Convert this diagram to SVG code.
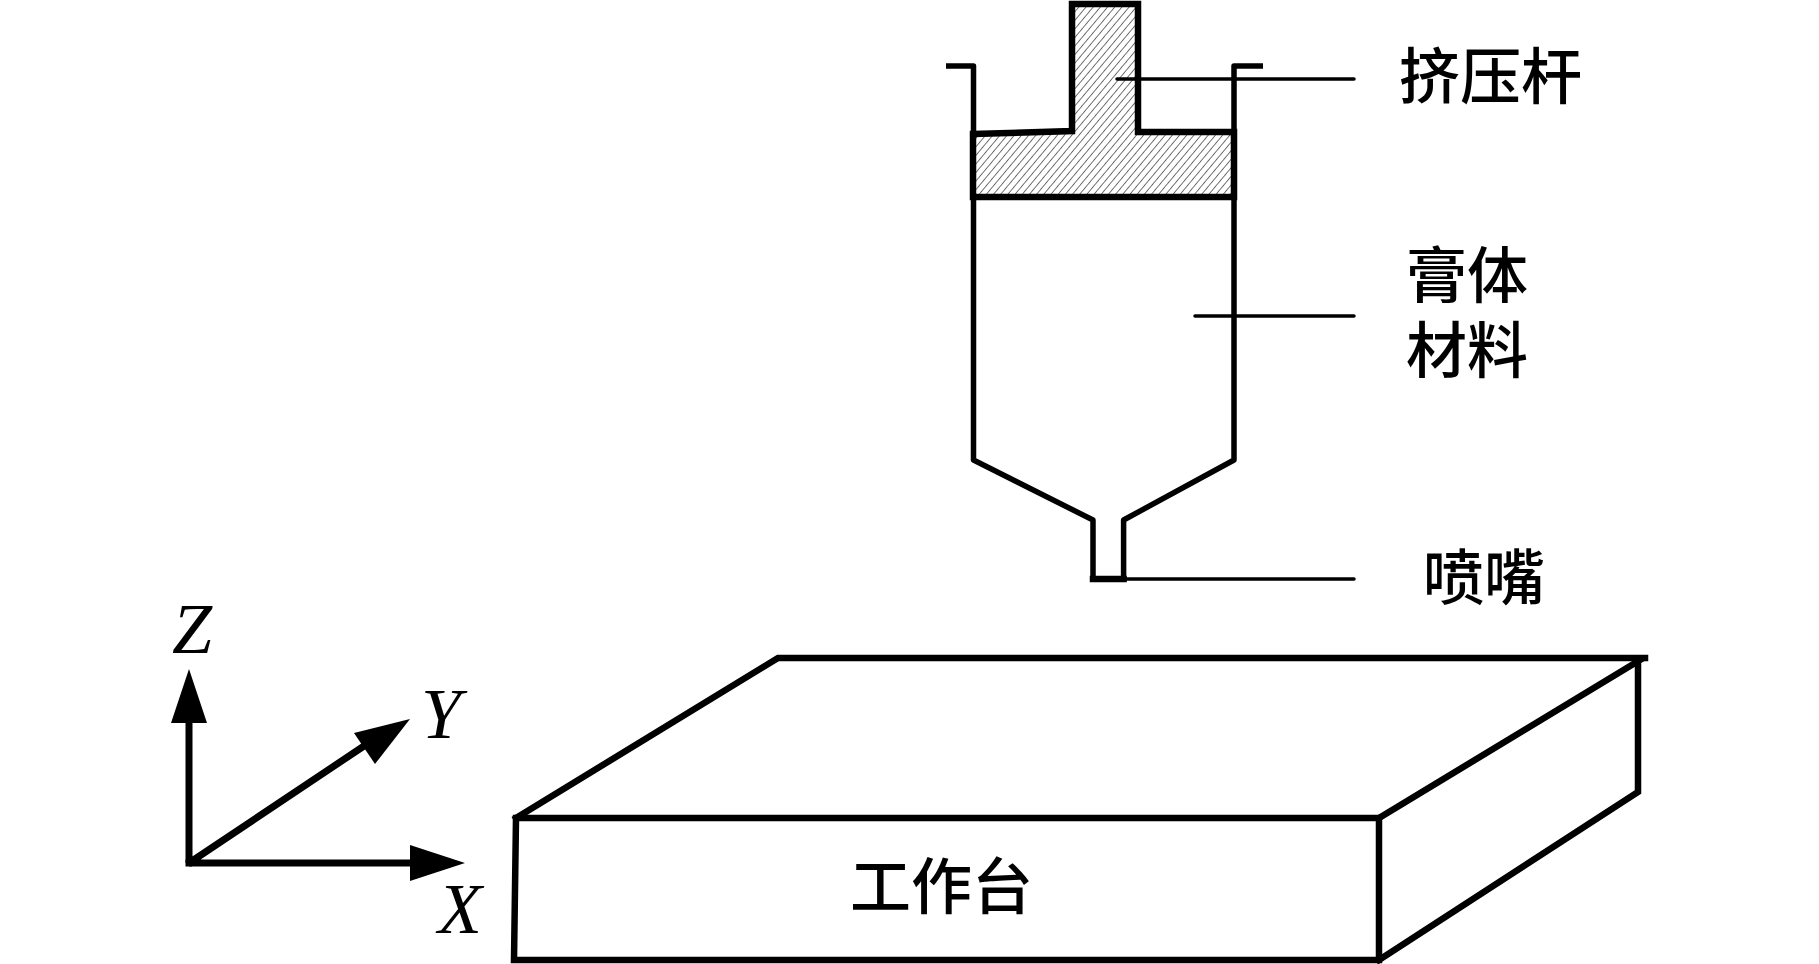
<svg xmlns="http://www.w3.org/2000/svg" width="1819" height="964" viewBox="0 0 1819 964">
<style>
.o{fill:none;stroke:#000;stroke-width:6.5;stroke-linecap:square;stroke-linejoin:miter}
.w{fill:none;stroke:#000;stroke-width:5.5;stroke-linejoin:round}
.l{fill:none;stroke:#000;stroke-width:3.5;stroke-linecap:round}
.a{fill:none;stroke:#000;stroke-width:7}
.h{fill:#000}
.c{font-family:"Noto Sans CJK SC","Noto Sans CJK JP",sans-serif;font-size:61px;fill:#000;font-weight:500}
.m{font-family:"Liberation Serif",serif;font-style:italic;font-size:72px;fill:#000}
</style>
<defs>
<pattern id="hatch" width="5.5" height="5.5" patternUnits="userSpaceOnUse" patternTransform="rotate(40)">
<line x1="0" y1="0" x2="0" y2="5.5" stroke="#000" stroke-width="1.1"/>
</pattern>
</defs>
<rect width="1819" height="964" fill="#fff"/>
<g id="barrel">
<path class="w" d="M946 66H973.5V134M1263 66H1234V134"/>
<path class="w" d="M973.5 197V460L1093 520V579M1234 197V460L1123.6 520V579"/>
</g>
<g id="piston">
<path d="M973 134L1072 131V4H1138V132H1234V197H973Z" fill="url(#hatch)" stroke="#000" stroke-width="6.5"/>
</g>
<g id="nozzle">
<path class="o" d="M1093 579H1123.6"/>
</g>
<g id="table">
<path class="o" d="M516 818H1379V960H514Z"/>
<path class="o" d="M516 818L778 658H1645"/>
<path class="o" d="M1379 818L1640 660M1379 960L1638 792V660"/>
</g>
<g id="axes">
<path class="a" d="M189 863V720M189 863H415M189 863L367 744"/>
<path class="a" d="M185.500 863H192"/>
<polygon class="h" points="189,669 207,723 171,723"/>
<polygon class="h" points="465,863 410,845 410,881"/>
<polygon class="h" points="410,719 354,733 375,764"/>
</g>
<g id="connectors">
<line class="l" x1="1117" y1="79" x2="1354" y2="79"/>
<line class="l" x1="1195" y1="316" x2="1354" y2="316"/>
<line class="l" x1="1123" y1="579" x2="1354" y2="579"/>
</g>
<g id="label-rod"><text class="c" x="1399" y="99">挤压杆</text></g>
<g id="label-paste"><text class="c"><tspan x="1406" y="298">膏体</tspan><tspan x="1406" y="373">材料</tspan></text></g>
<g id="label-nozzle"><text class="c" x="1423" y="600">喷嘴</text></g>
<g id="label-table"><text class="c" x="850" y="909">工作台</text></g>
<g id="label-axes">
<text class="m" x="172" y="653">Z</text>
<text class="m" x="421" y="738">Y</text>
<text class="m" x="438" y="933">X</text>
</g>
</svg>
